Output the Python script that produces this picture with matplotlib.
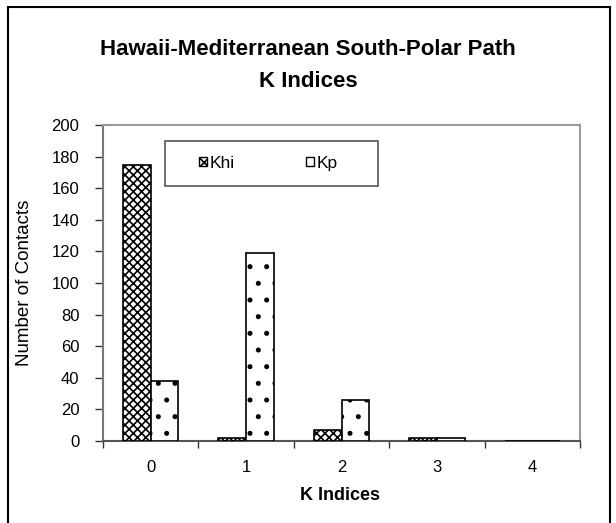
import matplotlib
matplotlib.use("Agg")
import matplotlib.pyplot as plt
from matplotlib.patches import Rectangle, Patch
import numpy as np

plt.rcParams['font.family'] = ['Liberation Sans', 'DejaVu Sans']
plt.rcParams['hatch.linewidth'] = 1.2

categories = ['0', '1', '2', '3', '4']
khi = [175, 2, 7, 2, 0]
kp = [38, 119, 26, 2, 0]
yticks = [0, 20, 40, 60, 80, 100, 120, 140, 160, 180, 200]

W, H = 616, 523
fig = plt.figure(figsize=(W / 100, H / 100), dpi=100)
AX_L, AX_R, AX_T, AX_B = 103, 580, 125, 441
ax = fig.add_axes([AX_L / W, 1 - AX_B / H, (AX_R - AX_L) / W, (AX_B - AX_T) / H])

x = np.arange(len(categories))
bw = 0.29
ax.bar(x - bw / 2, khi, width=bw, facecolor='white', edgecolor='black',
       hatch='xxxx', linewidth=1.2, label='Khi', zorder=3)
ax.bar(x + bw / 2, kp, width=bw, facecolor='white', edgecolor='black',
       hatch='.', linewidth=1.2, label='Kp', zorder=3)

ax.set_xlim(-0.5, len(categories) - 0.5)
ax.set_ylim(0, 200)
ax.set_yticks(yticks)
ax.set_yticklabels([str(v) for v in yticks], fontsize=12)
ax.set_xticks(np.arange(-0.5, len(categories), 1.0))
ax.set_xticklabels([])
ax.set_xticks(x, minor=True)
ax.set_xticklabels(categories, minor=True, fontsize=12)
ax.tick_params(axis='x', which='minor', length=0, pad=14)
ax.tick_params(axis='x', which='major', length=5, direction='out', color='#333333', width=1)
ax.tick_params(axis='y', length=6, direction='out', color='#333333', width=1, pad=11)

for s in ['top', 'right']:
    ax.spines[s].set_color('#9a9a9a')
    ax.spines[s].set_linewidth(1.5)
ax.spines['left'].set_color('#777777')
ax.spines['left'].set_linewidth(1.5)
ax.spines['bottom'].set_color('#555555')
ax.spines['bottom'].set_linewidth(1.5)

fig.text(25 / W, 1 - 283 / H, 'Number of Contacts', rotation=90,
         ha='center', va='center', fontsize=13.5)
fig.text((AX_L + AX_R) / 2 / W - 2 / W, 1 - 500 / H, 'K Indices',
         ha='center', va='baseline', fontsize=13, fontweight='bold')

fig.text(0.5, 1 - 55 / H, 'Hawaii-Mediterranean South-Polar Path',
         ha='center', va='baseline', fontsize=16, fontweight='bold')
fig.text(0.5, 1 - 87 / H, 'K Indices',
         ha='center', va='baseline', fontsize=16, fontweight='bold')

# legend frame
LX0, LX1, LY0, LY1 = 165, 378, 141, 186
fig.patches.append(Rectangle((LX0 / W, 1 - LY1 / H), (LX1 - LX0) / W, (LY1 - LY0) / H,
                             transform=fig.transFigure, facecolor='white',
                             edgecolor='#555555', linewidth=1.2, zorder=5))
handles = [Patch(facecolor='white', edgecolor='black', hatch='xxxx', label='Khi'),
           Patch(facecolor='white', edgecolor='black', label='Kp')]
leg = fig.legend(handles=handles, ncol=2, loc='center',
                 bbox_to_anchor=((LX0 + LX1) / 2 / W - 3 / W, 1 - (LY0 + LY1) / 2 / H),
                 fontsize=12.5, frameon=False,
                 handlelength=0.45, handleheight=0.45,
                 handletextpad=0.15, borderpad=0.0, columnspacing=4.1)
leg.set_zorder(6)

fig.patches.append(Rectangle((8 / W, -0.1), (610 - 8) / W, 1.1 - 7 / H,
                             transform=fig.transFigure, fill=False,
                             edgecolor='black', linewidth=1.5))

fig.savefig('out.png', dpi=100)
